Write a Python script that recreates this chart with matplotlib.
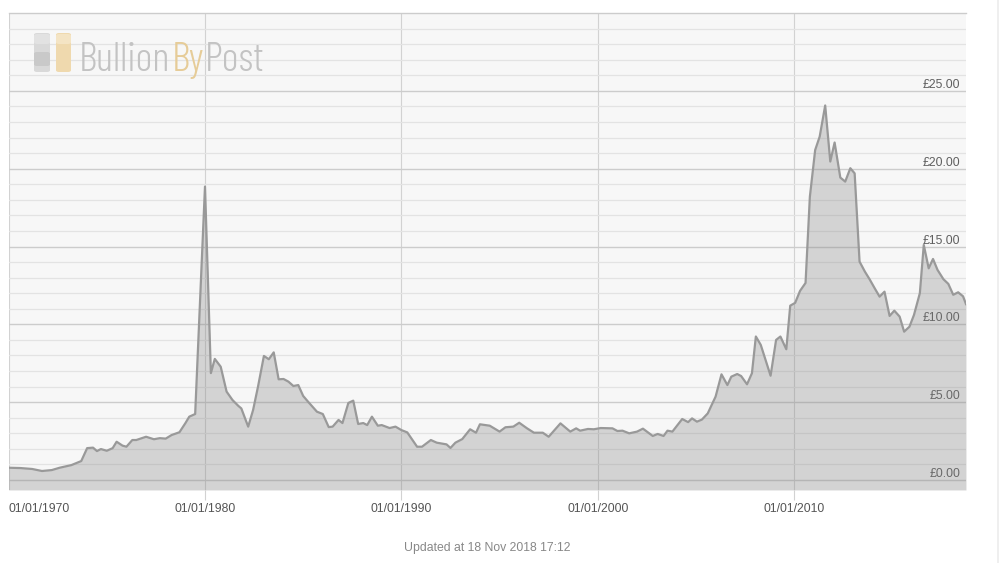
import matplotlib
matplotlib.use("Agg")
import matplotlib.pyplot as plt
from matplotlib.patches import FancyBboxPatch
from matplotlib.lines import Line2D
from matplotlib.ticker import FixedLocator, NullFormatter

# ---------------- data ----------------
years = [
    1970.0, 1970.6, 1971.2, 1971.7, 1972.2, 1972.6, 1973.2, 1973.7, 1974.0, 1974.3,
    1974.5, 1974.7, 1975.0, 1975.3, 1975.5, 1975.8, 1976.0, 1976.3, 1976.5, 1977.0,
    1977.4, 1977.7, 1978.0, 1978.3, 1978.7, 1979.0, 1979.2, 1979.5, 1980.0, 1980.3,
    1980.5, 1980.8, 1981.1, 1981.4, 1981.7, 1981.85, 1982.2, 1982.45, 1982.7, 1983.0,
    1983.25, 1983.5, 1983.75, 1984.0, 1984.25, 1984.5, 1984.75, 1985.0, 1985.25, 1985.7,
    1986.0, 1986.3, 1986.5, 1986.8, 1987.0, 1987.3, 1987.55, 1987.8, 1988.06, 1988.26,
    1988.5, 1988.8, 1989.0, 1989.4, 1989.7, 1990.0, 1990.3, 1990.8, 1991.05, 1991.5,
    1991.8, 1992.3, 1992.5, 1992.75, 1993.1, 1993.5, 1993.8, 1994.0, 1994.5, 1995.0,
    1995.3, 1995.7, 1996.0, 1996.4, 1996.75, 1997.2, 1997.5, 1998.1, 1998.6, 1998.9,
    1999.1, 1999.5, 1999.8, 2000.15, 2000.75, 2001.0, 2001.26, 2001.6, 2002.0, 2002.3,
    2002.5, 2002.8, 2003.05, 2003.35, 2003.55, 2003.8, 2004.3, 2004.6, 2004.8, 2005.05,
    2005.3, 2005.6, 2006.0, 2006.3, 2006.6, 2006.8, 2007.1, 2007.3, 2007.6, 2007.85,
    2008.05, 2008.3, 2008.8, 2009.08, 2009.3, 2009.6, 2009.8, 2010.05, 2010.3, 2010.58,
    2010.8, 2011.07, 2011.3, 2011.58, 2011.84, 2012.06, 2012.35, 2012.6, 2012.86, 2013.08,
    2013.33, 2013.6, 2013.84, 2014.1, 2014.35, 2014.6, 2014.86, 2015.1, 2015.37, 2015.6,
    2015.87, 2016.1, 2016.4, 2016.6, 2016.85, 2017.07, 2017.3, 2017.6, 2017.85, 2018.1,
    2018.35, 2018.6, 2018.75,
]
prices = [
    0.79, 0.77, 0.71, 0.58, 0.64, 0.79, 0.96, 1.22, 2.05, 2.08,
    1.86, 1.99, 1.88, 2.05, 2.46, 2.21, 2.14, 2.57, 2.57, 2.78,
    2.62, 2.69, 2.66, 2.89, 3.07, 3.65, 4.07, 4.24, 18.85, 6.87,
    7.78, 7.28, 5.68, 5.14, 4.76, 4.60, 3.43, 4.50, 6.00, 7.97,
    7.76, 8.20, 6.47, 6.49, 6.32, 6.04, 6.10, 5.40, 5.03, 4.39,
    4.24, 3.40, 3.43, 3.86, 3.66, 4.95, 5.10, 3.60, 3.66, 3.53,
    4.07, 3.49, 3.53, 3.34, 3.43, 3.21, 3.06, 2.14, 2.14, 2.57,
    2.40, 2.29, 2.06, 2.40, 2.63, 3.26, 3.04, 3.58, 3.49, 3.11,
    3.39, 3.43, 3.68, 3.32, 3.04, 3.04, 2.78, 3.64, 3.11, 3.32,
    3.17, 3.28, 3.26, 3.34, 3.32, 3.15, 3.17, 3.00, 3.11, 3.30,
    3.11, 2.83, 2.96, 2.83, 3.17, 3.11, 3.92, 3.72, 3.96, 3.75,
    3.88, 4.28, 5.36, 6.79, 6.10, 6.64, 6.81, 6.68, 6.15, 6.86,
    9.22, 8.68, 6.70, 9.00, 9.22, 8.40, 11.20, 11.38, 12.15, 12.66,
    18.20, 21.20, 22.06, 24.06, 20.46, 21.68, 19.43, 19.17, 20.03, 19.70,
    14.03, 13.39, 12.90, 12.32, 11.78, 12.10, 10.54, 10.88, 10.50, 9.53,
    9.85, 10.60, 12.00, 15.10, 13.60, 14.20, 13.50, 12.90, 12.60, 11.90,
    12.06, 11.80, 11.30,
]
x_ticks = [1970, 1980, 1990, 2000, 2010]
x_tick_labels = ["01/01/1970", "01/01/1980", "01/01/1990", "01/01/2000", "01/01/2010"]
y_ticks = [0, 5, 10, 15, 20, 25]
y_tick_labels = ["£0.00", "£5.00", "£10.00", "£15.00", "£20.00", "£25.00"]
y_minor = [v for v in range(0, 31) if v % 5 != 0]
updated_text = "Updated at 18 Nov 2018 17:12"
logo_parts = ["Bullion", "By", "Post"]

# ---------------- figure ----------------
W, H = 1000, 563
fig = plt.figure(figsize=(W / 100, H / 100), dpi=100, facecolor="white")
plt.rcParams["font.family"] = ["Liberation Sans", "DejaVu Sans"]

ax_left, ax_right, ax_top, ax_bottom = 8.6, 966, 13, 490
ax = fig.add_axes([ax_left / W, (H - ax_bottom) / H,
                   (ax_right - ax_left) / W, (ax_bottom - ax_top) / H])
ax.set_facecolor("#f7f7f7")
y_lo, y_hi = -0.64, 30.0
ax.set_xlim(1970.0, 2018.75)
ax.set_ylim(y_lo, y_hi)

# area
ax.fill_between(years, prices, y_lo, color="#808080", alpha=0.30, lw=0, zorder=2)
ax.plot(years, prices, color="#999999", lw=1.6, zorder=3, solid_joinstyle="round")

# y axis: labels inside on the right
ax.yaxis.tick_right()
ax.yaxis.set_major_locator(FixedLocator(y_ticks))
ax.set_yticklabels(y_tick_labels)
ax.yaxis.set_minor_locator(FixedLocator(y_minor))
ax.yaxis.set_minor_formatter(NullFormatter())
ax.tick_params(axis="y", which="both", length=0, pad=-4.3, labelsize=8.8,
               labelcolor="#5f5f5f")
for lab in ax.get_yticklabels():
    lab.set_horizontalalignment("right")
    lab.set_verticalalignment("bottom")
ax.grid(axis="y", which="major", color="#cccccc", lw=1.0, zorder=0)
ax.grid(axis="y", which="minor", color="#e3e3e3", lw=0.9, zorder=0)

# x axis
ax.set_xticks(x_ticks)
ax.set_xticklabels(x_tick_labels)
ax.tick_params(axis="x", which="major", length=7.5, width=0.8, color="#d2d2d2",
               direction="out", pad=1.5, labelsize=8.8, labelcolor="#555555")
ax.xaxis.get_major_ticks()[0].tick1line.set_visible(False)
ax.get_xticklabels()[0].set_horizontalalignment("left")
ax.grid(axis="x", which="major", color="#d2d2d2", lw=0.8, zorder=0)
ax.set_axisbelow(True)

for s in ["left", "right", "bottom"]:
    ax.spines[s].set_visible(False)
ax.spines["top"].set_color("#cccccc")
ax.spines["top"].set_linewidth(1.0)

# footer text
fig.text(487.5 / W, 1 - 548 / H, updated_text, ha="center", va="center",
         fontsize=8.8, color="#888888")

# right border line
fig.add_artist(Line2D([998 / W, 998 / W], [0, 1], color="#ececec", lw=1.2,
                      transform=fig.transFigure))

# ---------------- logo watermark ----------------
def fx(px):
    return px / W

def fy(py):
    return 1 - py / H

def bar(x0, x1, y0, y1, color):
    p = FancyBboxPatch((fx(x0), fy(y1)), fx(x1) - fx(x0), fy(y0) - fy(y1),
                       boxstyle="round,pad=0,rounding_size=0.003",
                       transform=fig.transFigure, facecolor=color,
                       edgecolor="none", zorder=5)
    fig.add_artist(p)

bar(34, 50, 33, 72, "#d9d9d9")
bar(34, 50, 52, 66, "#c9c9c9")
bar(34, 50, 34, 44, "#e2e2e2")
bar(56, 71, 33, 72, "#efd9ae")
bar(56, 71, 34, 44, "#f4e4c4")

logo_font = ["Barlow Condensed", "DejaVu Sans"]
logo_colors = ["#c3c3c3", "#e6cc98", "#c3c3c3"]
base_size = 30
texts = [fig.text(0, fy(71), s, ha="left", va="baseline", fontsize=base_size,
                  color=c, family=logo_font, fontweight=300)
         for s, c in zip(logo_parts, logo_colors)]

def layout_logo(size):
    for t in texts:
        t.set_fontsize(size)
    x = 79.0
    r = fig.canvas.get_renderer()
    for t in texts:
        t.set_position((x / W, fy(71)))
        fig.canvas.draw()
        x = t.get_window_extent(r).x1 + 1
    return x - 79.0

fig.canvas.draw()
wid = layout_logo(base_size)
layout_logo(base_size * 186.0 / wid)

fig.savefig("out.png", dpi=100, facecolor="white")
